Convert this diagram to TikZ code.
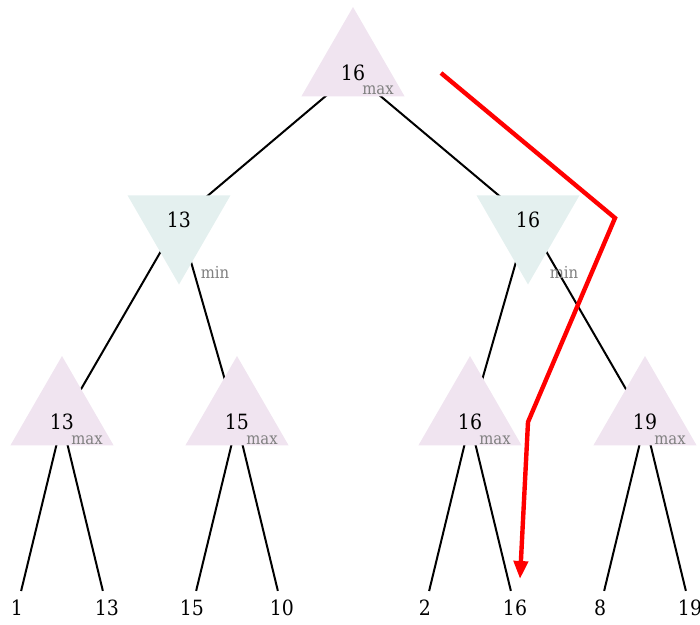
\documentclass[tikz,border=0pt]{standalone}
\usepackage{fontspec}
\setmainfont{DejaVu Serif Condensed}
\usetikzlibrary{shapes.geometric,arrows.meta}
\definecolor{maxfill}{RGB}{240,228,240}
\definecolor{minfill}{RGB}{228,240,239}
\definecolor{tagcol}{RGB}{128,128,128}
\pgfdeclarelayer{bg}
\pgfsetlayers{bg,main}
\begin{document}
\begin{tikzpicture}[x=1pt,y=-1pt,
  maxnode/.style={regular polygon,regular polygon sides=3,minimum size=119pt,inner sep=0pt,outer sep=0pt,fill=maxfill},
  minnode/.style={regular polygon,regular polygon sides=3,shape border rotate=180,minimum size=119pt,inner sep=0pt,outer sep=0pt,fill=minfill},
  val/.style={font=\fontsize{21}{21}\selectfont,inner sep=0pt},
  tag/.style={font=\fontsize{16.5}{16.5}\selectfont,text=tagcol,inner sep=0pt},
  leaf/.style={font=\fontsize{21}{21}\selectfont,inner xsep=2pt,inner ysep=9pt},
  edge/.style={draw=black,line width=2pt},
  path/.style={draw=red,line width=4.4pt,line join=miter,-{Triangle[length=18pt,width=14pt]}}
]
\useasboundingbox (0,0) rectangle (700,624);
% tree nodes
\node[maxnode] (R) at (353,66.5) {};
\node[minnode] (A) at (179,225) {};
\node[minnode] (B) at (528,225) {};
\node[maxnode] (C) at (62,415.5) {};
\node[maxnode] (D) at (237,415.5) {};
\node[maxnode] (E) at (470,415.5) {};
\node[maxnode] (F) at (645,415.5) {};
% values
\node[val] (Rv) at (353,73) {16};
\node[val] (Av) at (179,220) {13};
\node[val] (Bv) at (528,220) {16};
\node[val] (Cv) at (62,422) {13};
\node[val] (Dv) at (237,422) {15};
\node[val] (Ev) at (470,422) {16};
\node[val] (Fv) at (645,422) {19};
% tags
\node[tag] (Rt) at (378,90) {max};
\node[tag] (At) at (215,272) {min};
\node[tag] (Bt) at (564,272) {min};
\node[tag] (Ct) at (87,440) {max};
\node[tag] (Dt) at (262,440) {max};
\node[tag] (Et) at (495,440) {max};
\node[tag] (Ft) at (670,440) {max};
% leaves
\node[leaf] (L1) at (17,608) {1};
\node[leaf] (L2) at (107,608) {13};
\node[leaf] (L3) at (192,608) {15};
\node[leaf] (L4) at (282,608) {10};
\node[leaf] (L5) at (425,608) {2};
\node[leaf] (L6) at (515,608) {16};
\node[leaf] (L7) at (600,608) {8};
\node[leaf] (L8) at (690,608) {19};
% edges (behind the filled triangles, which hide their inner parts)
\begin{pgfonlayer}{bg}
\draw[edge] (Rv.center) -- (Av.center);
\draw[edge] (Rv.center) -- (Bv.center);
\draw[edge] (Av.center) -- (Cv.center);
\draw[edge] (Av.center) -- (Dv.center);
\draw[edge] (Bv.center) -- (Ev.center);
\draw[edge] (Bv.center) -- (Fv.center);
\draw[edge] (Cv.center) -- (L1);
\draw[edge] (Cv.center) -- (L2);
\draw[edge] (Dv.center) -- (L3);
\draw[edge] (Dv.center) -- (L4);
\draw[edge] (Ev.center) -- (L5);
\draw[edge] (Ev.center) -- (L6);
\draw[edge] (Fv.center) -- (L7);
\draw[edge] (Fv.center) -- (L8);
\end{pgfonlayer}
% red path
\coordinate (p0) at (441,73);
\coordinate (p1) at (615,218);
\coordinate (p2) at (528,422);
\coordinate (p3) at (520,579);
\draw[path] (p0) -- (p1) -- (p2) -- (p3);
\end{tikzpicture}
\end{document}
